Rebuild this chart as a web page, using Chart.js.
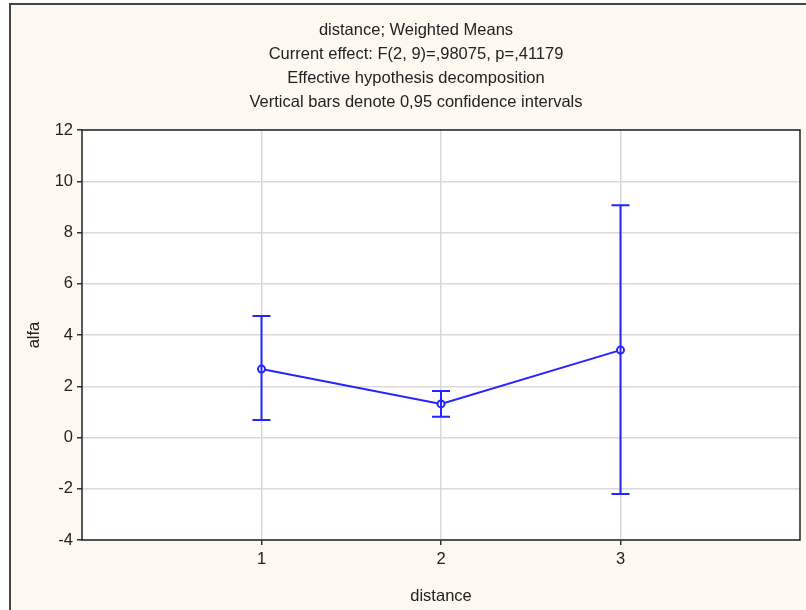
<!DOCTYPE html>
<html>
<head>
<meta charset="utf-8">
<script src="https://cdn.jsdelivr.net/npm/chart.js@4"></script>
<style>
html,body{margin:0;padding:0;background:#ffffff;}
#wrap{position:relative;width:806px;height:610px;}
canvas{display:block;}
</style>
</head>
<body>
<div id="wrap"><canvas id="c" width="806" height="610"></canvas></div>
<script>
const titleLines = [
  "distance; Weighted Means",
  "Current effect: F(2, 9)=,98075, p=,41179",
  "Effective hypothesis decomposition",
  "Vertical bars denote 0,95 confidence intervals"
];
const categories = [1, 2, 3];
const means = [2.67, 1.31, 3.41];
const upper = [4.74, 1.81, 9.06];
const lower = [0.68, 0.81, -2.2];
const xAxisTitle = "distance";
const yAxisTitle = "alfa";

const blue = '#2424ff';
const font = {family: '"Liberation Sans", Arial, sans-serif', size: 16.5};

const bgPlugin = {
  id: 'bg',
  beforeDraw(chart) {
    const {ctx, chartArea: a} = chart;
    ctx.save();
    ctx.fillStyle = '#ffffff';
    ctx.fillRect(0, 0, chart.width, chart.height);
    ctx.fillStyle = '#fdf9f0';
    ctx.fillRect(10, 4, chart.width, chart.height);
    ctx.strokeStyle = '#444';
    ctx.lineWidth = 2;
    ctx.beginPath();
    ctx.moveTo(10, chart.height + 5);
    ctx.lineTo(10, 4);
    ctx.lineTo(chart.width + 5, 4);
    ctx.stroke();
    ctx.fillStyle = '#ffffff';
    ctx.fillRect(a.left, a.top, a.right - a.left, a.bottom - a.top);
    ctx.restore();
  },
  afterDraw(chart) {
    const {ctx, chartArea: a} = chart;
    ctx.save();
    ctx.strokeStyle = '#222';
    ctx.lineWidth = 1.5;
    ctx.strokeRect(a.left, a.top, a.right - a.left, a.bottom - a.top);
    // title lines
    ctx.fillStyle = '#222';
    ctx.font = '16.5px "Liberation Sans", Arial, sans-serif';
    ctx.textAlign = 'center';
    ctx.textBaseline = 'middle';
    const cx = 416;
    titleLines.forEach((t, i) => ctx.fillText(t, cx, 30 + i * 24));
    ctx.restore();
  }
};

const errPlugin = {
  id: 'err',
  afterDatasetsDraw(chart) {
    const {ctx, scales: {x, y}} = chart;
    ctx.save();
    ctx.strokeStyle = blue;
    ctx.lineWidth = 2;
    categories.forEach((c, i) => {
      const px = x.getPixelForValue(c);
      const yt = y.getPixelForValue(upper[i]);
      const yb = y.getPixelForValue(lower[i]);
      ctx.beginPath();
      ctx.moveTo(px, yt); ctx.lineTo(px, yb);
      ctx.moveTo(px - 9, yt); ctx.lineTo(px + 9, yt);
      ctx.moveTo(px - 9, yb); ctx.lineTo(px + 9, yb);
      ctx.stroke();
    });
    ctx.restore();
  }
};

new Chart(document.getElementById('c'), {
  type: 'line',
  data: {
    datasets: [{
      data: categories.map((c, i) => ({x: c, y: means[i]})),
      borderColor: blue,
      borderWidth: 2,
      pointRadius: 3.5,
      pointBorderWidth: 2,
      pointBorderColor: blue,
      pointBackgroundColor: '#ffffff',
      tension: 0
    }]
  },
  options: {
    responsive: false,
    animation: false,
    layout: {padding: {top: 130, left: 0, right: 4, bottom: 0}},
    plugins: {legend: {display: false}, tooltip: {enabled: false}, title: {display: false}},
    scales: {
      x: {
        type: 'linear',
        min: 0, max: 4,
        afterBuildTicks(s) { s.ticks = categories.map(v => ({value: v})); },
        afterFit(s) { s.height = 70; },
        grid: {color: '#d9d9d9', lineWidth: 1.5, tickLength: 5, tickColor: '#333', drawOnChartArea: true},
        border: {display: false},
        ticks: {font, color: '#222', padding: 5},
        title: {display: true, text: xAxisTitle, font, color: '#222', padding: {top: 10}}
      },
      y: {
        min: -4, max: 12,
        ticks: {stepSize: 2, font, color: '#222', padding: 4},
        afterFit(s) { s.width = 82; },
        grid: {color: '#d9d9d9', lineWidth: 1.5, tickLength: 5, tickColor: '#333'},
        border: {display: false},
        title: {display: true, text: yAxisTitle, font, color: '#222', padding: {top: 25}}
      }
    }
  },
  plugins: [bgPlugin, errPlugin]
});
</script>
</body>
</html>
